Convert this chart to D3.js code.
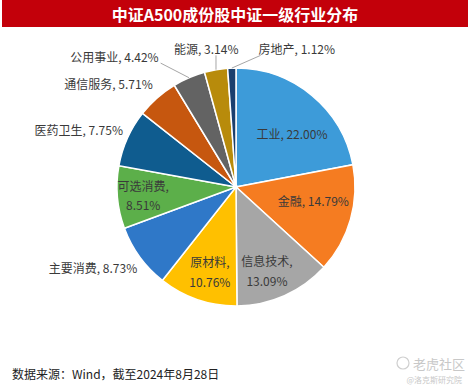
<!DOCTYPE html>
<html><head><meta charset="utf-8">
<script src="https://cdn.jsdelivr.net/npm/d3@7"></script>
<style>
html,body{margin:0;padding:0;background:#fff;}
svg{display:block;font-family:"Noto Sans CJK SC","Noto Sans",sans-serif;}
</style></head>
<body>
<svg id="chart" width="470" height="391"></svg>
<script>
// ---- data ----
const categories = ["工业","金融","信息技术","原材料","主要消费","可选消费","医药卫生","通信服务","公用事业","能源","房地产"];
const values = [22.00,14.79,13.09,10.76,8.73,8.51,7.75,5.71,4.42,3.14,1.12];
const colors = ["#3d9bd9","#f57c21","#a6a6a6","#ffc000","#2f78c8","#5caf4a","#0f5c8f","#c6570f","#636363","#b88b0b","#1b3f6e"];
const title = "中证A500成份股中证一级行业分布";
const source = "数据来源：Wind，截至2024年8月28日";

// ---- label layout (offsets from centre in units of radius) ----
// [dx, dy, anchor, twoLines, leader]
const labelLayout = [
  [0.47,-0.45,"middle",false,false],
  [0.65,0.11,"middle",false,false],
  [0.26,0.70,"middle",true,false],
  [-0.22,0.71,"middle",true,false],
  [-0.83,0.68,"end",false,false],
  [-0.78,0.065,"middle",true,false],
  [-0.95,-0.48,"end",false,false],
  [-0.70,-0.87,"end",false,false],
  [-0.65,-1.10,"end",false,true],
  [-0.25,-1.165,"middle",false,true],
  [0.19,-1.165,"start",false,true]
];

const W = 470, H = 391;
const svg = d3.select("#chart");
const cx = 236, cy = 187, R = 119;

// title bar
svg.append("rect").attr("x",2).attr("y",0).attr("width",466).attr("height",27).attr("fill","#c3000a");
svg.append("text").attr("x",235).attr("y",14).attr("text-anchor","middle").attr("dominant-baseline","central")
  .attr("fill","#fff").attr("font-size",16).attr("font-weight","bold").text(title);

const data = categories.map((c,i)=>({name:c,value:values[i],color:colors[i],layout:labelLayout[i]}));
const pie = d3.pie().sort(null).value(d=>d.value).startAngle(0).endAngle(2*Math.PI);
const arcs = pie(data);
const arc = d3.arc().innerRadius(0).outerRadius(R);

const g = svg.append("g").attr("transform",`translate(${cx},${cy})`);
g.selectAll("path.slice").data(arcs).enter().append("path")
  .attr("class","slice").attr("d",arc).attr("fill",d=>d.data.color)
  .attr("stroke","#fff").attr("stroke-width",1.5);

const fmt = v => d3.format(".2f")(v) + "%";

arcs.forEach(a=>{
  const [dx,dy,anchor,two,leader] = a.data.layout;
  const x = dx*R, y = dy*R;
  if(leader){
    const mid = (a.startAngle+a.endAngle)/2;
    const ex = Math.sin(mid)*R, ey = -Math.cos(mid)*R;
    let sx;
    if(anchor==="end") sx = x+2; else if(anchor==="start") sx = x+2; else sx = ex;
    const sy = y + 7;
    g.append("line").attr("x1",sx).attr("y1",sy).attr("x2",ex).attr("y2",ey)
      .attr("stroke","#a6a6a6").attr("stroke-width",1);
  }
  const t = g.append("text").attr("text-anchor",anchor).attr("fill","#3a3a3a").attr("font-size",12);
  if(two){
    t.append("tspan").attr("x",x).attr("y",y-9.5).attr("dominant-baseline","central").text(a.data.name+",");
    t.append("tspan").attr("x",x).attr("y",y+10).attr("dominant-baseline","central").text(fmt(a.data.value));
  } else {
    t.attr("x",x).attr("y",y).attr("dominant-baseline","central").text(a.data.name+", "+fmt(a.data.value));
  }
});

// footer
svg.append("text").attr("x",12).attr("y",373).attr("dominant-baseline","central")
  .attr("fill","#222").attr("font-size",12).text(source);
// watermark
svg.append("circle").attr("cx",403).attr("cy",363).attr("r",6).attr("fill","none").attr("stroke","#cfcfcf").attr("stroke-width",1.2);
svg.append("text").attr("x",413).attr("y",363).attr("dominant-baseline","central")
  .attr("fill","#c8c8c8").attr("font-size",13).text("老虎社区");
svg.append("text").attr("x",462).attr("y",379).attr("text-anchor","end").attr("dominant-baseline","central")
  .attr("fill","#c8c8c8").attr("font-size",8).text("@洛克斯研究院");
</script>
</body></html>
